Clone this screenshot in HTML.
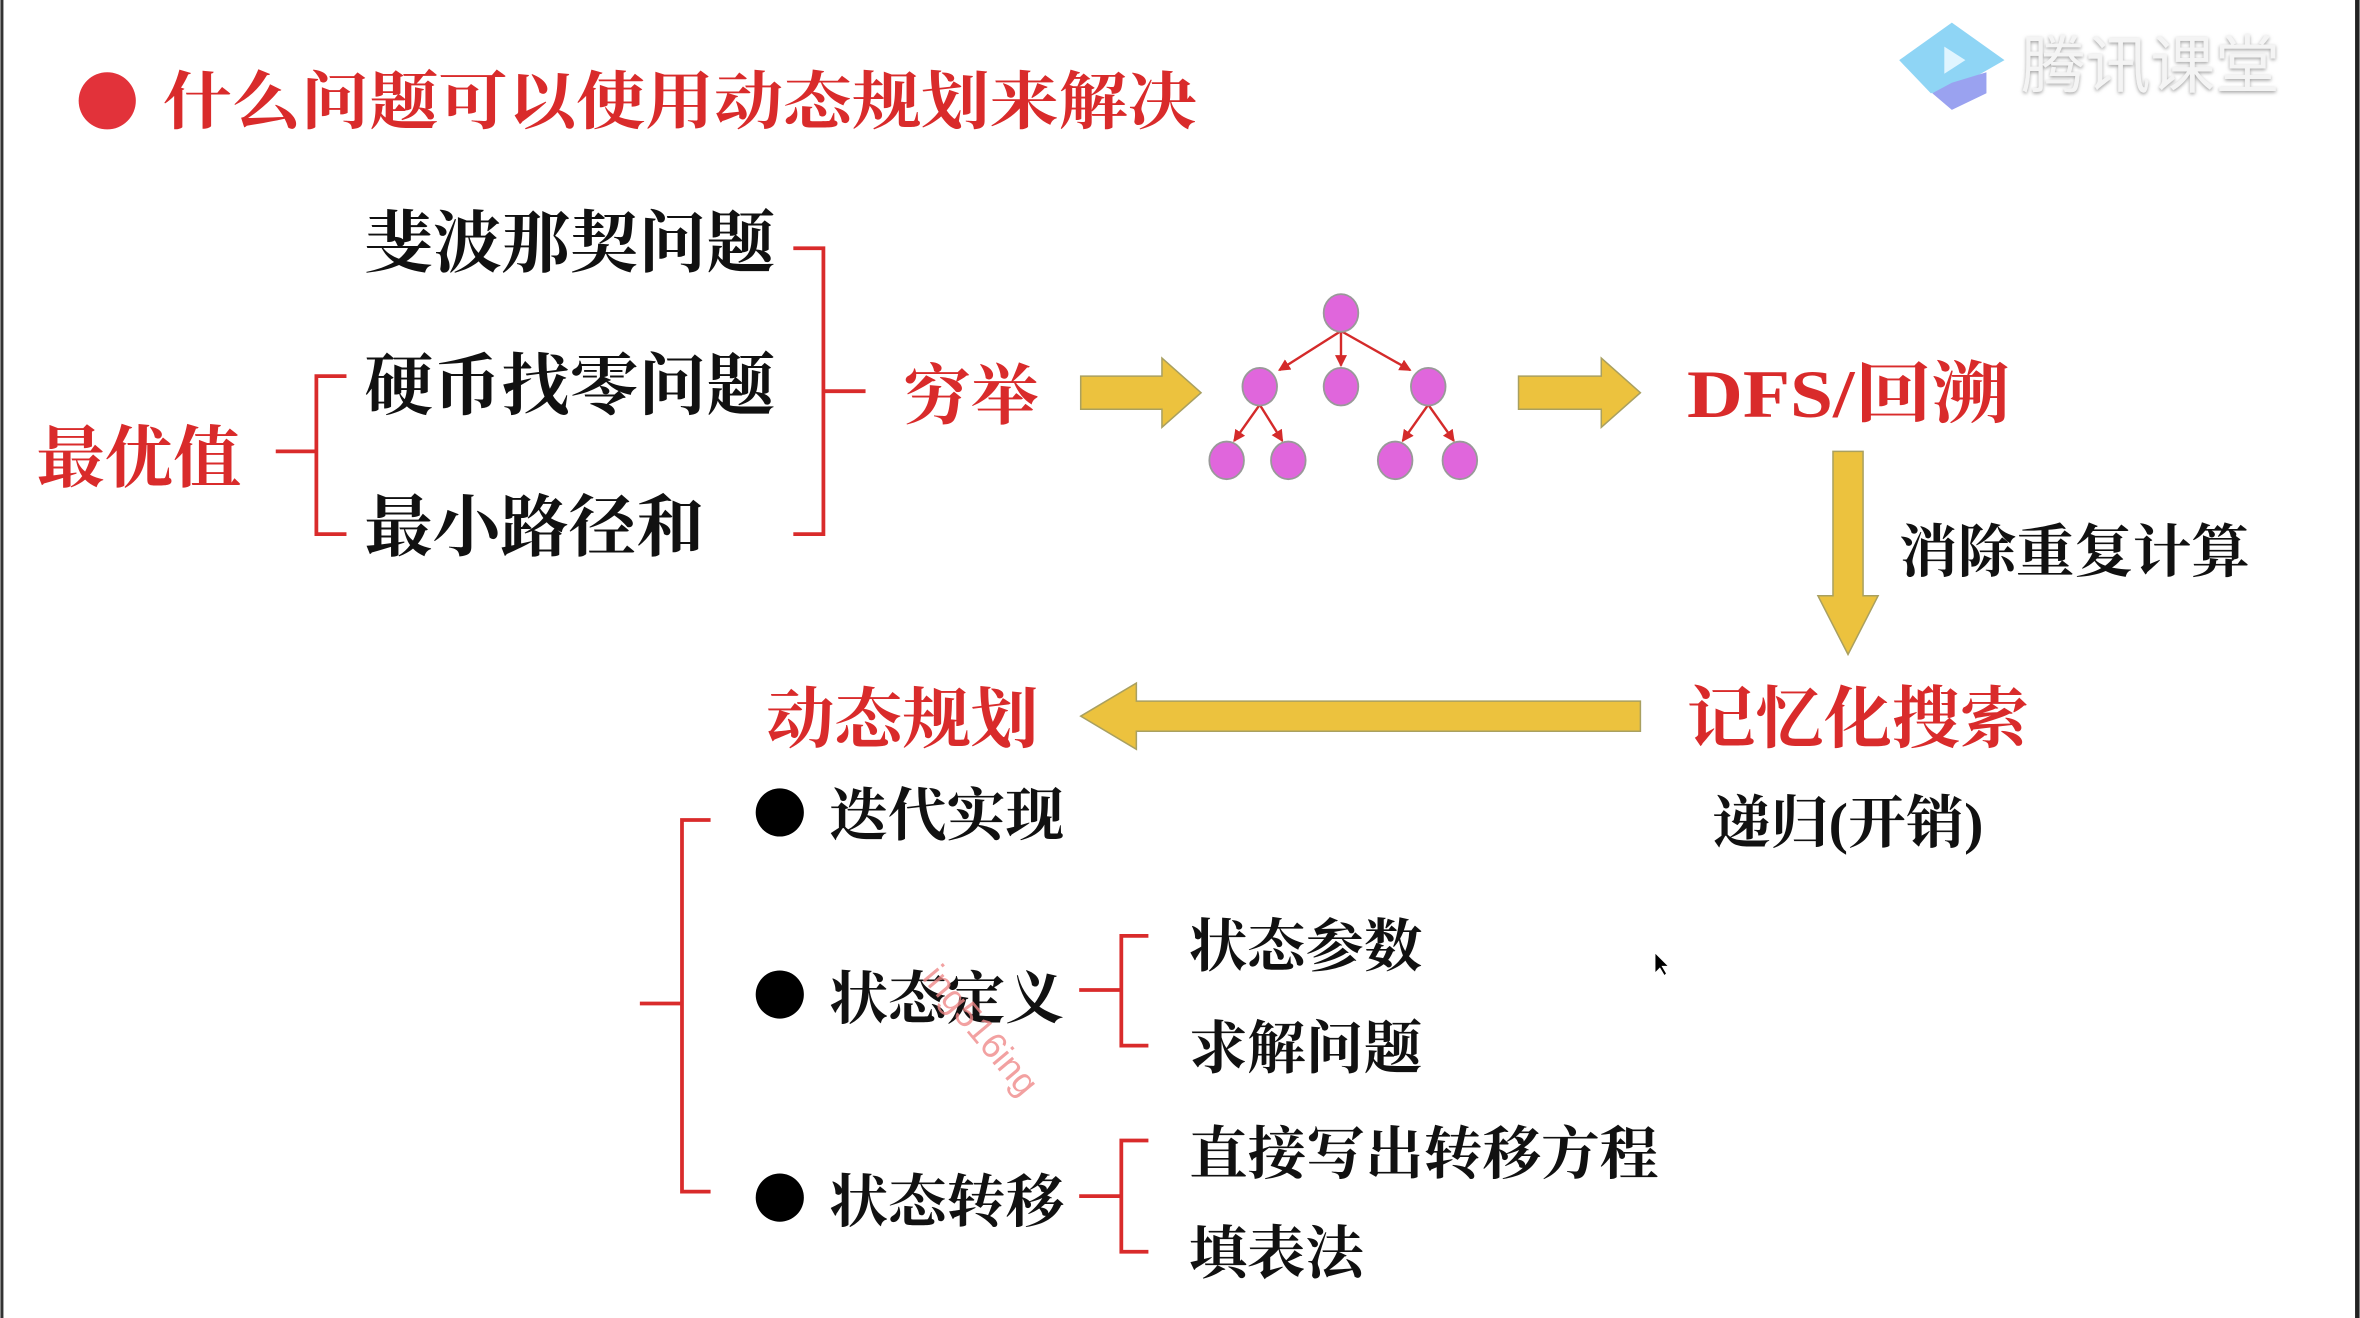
<!DOCTYPE html>
<html><head><meta charset="utf-8"><style>
html,body{margin:0;padding:0;background:#fff;}
svg{display:block;}
.s{font-family:"Liberation Serif","Noto Serif CJK SC",serif;font-weight:bold;}
</style></head><body>
<svg width="2360" height="1318" viewBox="0 0 1568 876" xmlns="http://www.w3.org/2000/svg">
<defs>
<marker id="ah" markerWidth="8" markerHeight="8" refX="7" refY="4" orient="auto" markerUnits="userSpaceOnUse"><path d="M0,0 L8,4 L0,8 z" fill="#d42a2a"/></marker>
<filter id="sh"><feDropShadow dx="0" dy="1" stdDeviation="1.2" flood-color="#888" flood-opacity="0.8"/></filter>
</defs>
<rect width="1568" height="876" fill="#fff"/>
<rect x="0" y="0" width="2" height="876" fill="#333"/>
<rect x="1565" y="0" width="3" height="876" fill="#222"/>
<!-- logo -->
<path d="M1262,40 L1297,15 L1332,40 L1297,60 L1283,62 Z" fill="#8fd5f5"/>
<path d="M1284,62 L1297,55 L1320,48 L1320,62 L1297,73 Z" fill="#9aa2f0"/>
<path d="M1292,31 L1306,40 L1292,49 Z" fill="#e0f5ff"/>
<text x="1343" y="58" font-family="'Noto Sans CJK SC',sans-serif" font-size="42" fill="#f4f4f4" filter="url(#sh)" textLength="172" lengthAdjust="spacingAndGlyphs">腾讯课堂</text>
<!-- title -->
<circle cx="71" cy="67" r="19" fill="#e2323a"/>
<text class="s" x="108" y="82" font-size="42" fill="#d92b2b" textLength="687" lengthAdjust="spacingAndGlyphs">什么问题可以使用动态规划来解决</text>
<!-- left block -->
<text class="s" x="24" y="320" font-size="45" fill="#d92b2b" textLength="136" lengthAdjust="spacingAndGlyphs">最优值</text>
<path d="M183,300 H210 M230,250 H210 V355 H230" fill="none" stroke="#d92b2b" stroke-width="2.5"/>
<text class="s" x="242" y="177" font-size="45" fill="#111" textLength="273" lengthAdjust="spacingAndGlyphs">斐波那契问题</text>
<text class="s" x="242" y="272" font-size="45" fill="#111" textLength="273" lengthAdjust="spacingAndGlyphs">硬币找零问题</text>
<text class="s" x="242" y="366" font-size="45" fill="#111" textLength="226" lengthAdjust="spacingAndGlyphs">最小路径和</text>
<path d="M527,165 H547 V355 H527 M547,260 H575" fill="none" stroke="#d92b2b" stroke-width="2.5"/>
<text class="s" x="600" y="278" font-size="44" fill="#d92b2b" textLength="90" lengthAdjust="spacingAndGlyphs">穷举</text>
<!-- arrows -->
<path d="M718,250 H772 V238 L798,261 L772,284 V272 H718 Z" fill="#ecc23e" stroke="#a9a060" stroke-width="1"/>
<path d="M1009,250 H1064 V238 L1090,261 L1064,284 V272 H1009 Z" fill="#ecc23e" stroke="#a9a060" stroke-width="1"/>
<!-- tree -->
<g stroke="#d42a2a" stroke-width="1.6" marker-end="url(#ah)">
<line x1="891" y1="220" x2="850" y2="246"/>
<line x1="891" y1="220" x2="891" y2="243"/>
<line x1="891" y1="220" x2="937" y2="246"/>
<line x1="837" y1="269" x2="820" y2="293"/>
<line x1="837" y1="269" x2="852" y2="293"/>
<line x1="949" y1="269" x2="932" y2="293"/>
<line x1="949" y1="269" x2="966" y2="293"/>
</g>
<g fill="#e066dc" stroke="#999" stroke-width="1.2">
<ellipse cx="891" cy="208" rx="11.5" ry="12.5"/>
<ellipse cx="837" cy="257" rx="11.5" ry="12.5"/>
<ellipse cx="891" cy="257" rx="11.5" ry="12.5"/>
<ellipse cx="949" cy="257" rx="11.5" ry="12.5"/>
<ellipse cx="815" cy="306" rx="11.5" ry="12.5"/>
<ellipse cx="856" cy="306" rx="11.5" ry="12.5"/>
<ellipse cx="927" cy="306" rx="11.5" ry="12.5"/>
<ellipse cx="970" cy="306" rx="11.5" ry="12.5"/>
</g>
<text class="s" x="1121" y="277" font-size="45" fill="#d92b2b" textLength="214" lengthAdjust="spacingAndGlyphs">DFS/回溯</text>
<path d="M1218,300 H1238 V396 H1248 L1228,435 L1208,396 H1218 Z" fill="#ecc23e" stroke="#a9a060" stroke-width="1"/>
<text class="s" x="1262" y="380" font-size="38" fill="#111" textLength="233" lengthAdjust="spacingAndGlyphs">消除重复计算</text>
<text class="s" x="1121" y="493" font-size="45" fill="#d92b2b" textLength="227" lengthAdjust="spacingAndGlyphs">记忆化搜索</text>
<path d="M1090,466 H755 V454 L718,476 L755,498 V486 H1090 Z" fill="#ecc23e" stroke="#a9a060" stroke-width="1"/>
<text class="s" x="509" y="493" font-size="44" fill="#d92b2b" textLength="181" lengthAdjust="spacingAndGlyphs">动态规划</text>
<text class="s" x="1138" y="560" font-size="38" fill="#111" textLength="180" lengthAdjust="spacingAndGlyphs">递归(开销)</text>
<!-- bottom brackets -->
<path d="M472,545 H453 V792 H472 M453,667 H425" fill="none" stroke="#d92b2b" stroke-width="2.5"/>
<circle cx="518" cy="540" r="16" fill="#000"/>
<circle cx="518" cy="661" r="16" fill="#000"/>
<circle cx="518" cy="796" r="16" fill="#000"/>
<text class="s" x="551" y="555" font-size="38" fill="#111" textLength="156" lengthAdjust="spacingAndGlyphs">迭代实现</text>
<text class="s" x="551" y="677" font-size="38" fill="#111" textLength="156" lengthAdjust="spacingAndGlyphs">状态定义</text>
<text class="s" x="551" y="812" font-size="38" fill="#111" textLength="156" lengthAdjust="spacingAndGlyphs">状态转移</text>
<path d="M763,622 H745 V695 H763 M745,658 H717" fill="none" stroke="#d92b2b" stroke-width="2.5"/>
<path d="M763,758 H745 V832 H763 M745,795 H717" fill="none" stroke="#d92b2b" stroke-width="2.5"/>
<text class="s" x="790" y="642" font-size="38" fill="#111" textLength="155" lengthAdjust="spacingAndGlyphs">状态参数</text>
<text class="s" x="790" y="710" font-size="38" fill="#111" textLength="155" lengthAdjust="spacingAndGlyphs">求解问题</text>
<text class="s" x="790" y="780" font-size="38" fill="#111" textLength="312" lengthAdjust="spacingAndGlyphs">直接写出转移方程</text>
<text class="s" x="790" y="846" font-size="38" fill="#111" textLength="116" lengthAdjust="spacingAndGlyphs">填表法</text>
<text x="612" y="650" font-family="'Liberation Sans',sans-serif" font-size="24" fill="#f08a8a" opacity="0.8" transform="rotate(50 612 650)">ing516ing</text>
<path d="M1100,634 L1100,646 L1103,643 L1106,648 L1107,647 L1104,642 L1108,642 Z" fill="#000"/>
</svg>
</body></html>
